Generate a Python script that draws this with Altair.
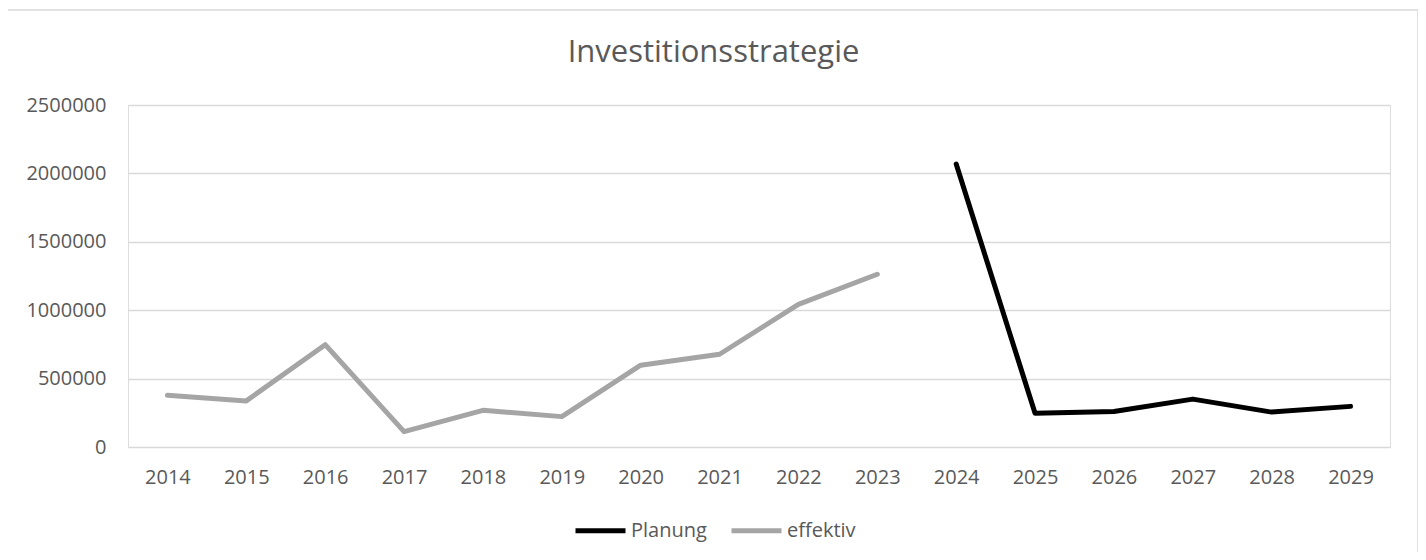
import altair as alt
import pandas as pd

years = [str(y) for y in range(2014, 2030)]
effektiv_years = ["2014", "2015", "2016", "2017", "2018", "2019", "2020", "2021", "2022", "2023"]
effektiv_values = [378000, 337000, 748000, 112000, 268000, 222000, 598000, 678000, 1043000, 1263000]
planung_years = ["2024", "2025", "2026", "2027", "2028", "2029"]
planung_values = [2068000, 246000, 260000, 350000, 255000, 297000]
series = ["Planung", "effektiv"]
colors = ["#000000", "#a5a5a5"]
y_ticks = [0, 500000, 1000000, 1500000, 2000000, 2500000]
title_text = "Investitionsstrategie"

rows = []
for y, v in zip(effektiv_years, effektiv_values):
    rows.append({"Jahr": y, "Wert": v, "Serie": "effektiv"})
for y, v in zip(planung_years, planung_values):
    rows.append({"Jahr": y, "Wert": v, "Serie": "Planung"})
df = pd.DataFrame(rows)

FONT = "Open Sans"
LABEL = "#595959"
FS = 20

lines = alt.Chart(df).mark_line(strokeWidth=5, strokeCap="round", strokeJoin="round").encode(
    x=alt.X("Jahr:O", sort=years, scale=alt.Scale(domain=years, type="point", padding=0.5),
            axis=alt.Axis(title=None, labelAngle=0, domain=False, ticks=False, labelPadding=20,
                          labelFontSize=FS, labelColor=LABEL, labelFont=FONT, grid=False)),
    y=alt.Y("Wert:Q", scale=alt.Scale(domain=[0, 2500000], nice=False),
            axis=alt.Axis(title=None, values=y_ticks, format="d", domain=False, ticks=False,
                          labelPadding=22, labelFontSize=FS, labelColor=LABEL, labelFont=FONT,
                          gridColor="#d9d9d9", gridWidth=1.5)),
    color=alt.Color("Serie:N", scale=alt.Scale(domain=series, range=colors),
                    legend=alt.Legend(title=None, orient="none", legendX=445, legendY=398,
                                      direction="horizontal", symbolType="stroke",
                                      symbolSize=2500, symbolStrokeWidth=5,
                                      labelFontSize=FS, labelColor=LABEL, labelFont=FONT,
                                      columnPadding=14, labelOffset=3)),
    detail="Serie:N",
)

border = alt.Chart(pd.DataFrame({"k": [0]})).mark_rect(
    fill=None, stroke="#d9d9d9", strokeWidth=1.5
).encode(
    x=alt.value(-121), x2=alt.value(1290), y=alt.value(-95), y2=alt.value(460)
)

title = alt.Chart(pd.DataFrame({"t": [title_text]})).mark_text(
    font=FONT, fontSize=31, color=LABEL, align="center", baseline="alphabetic"
).encode(
    x=alt.value(585.5), y=alt.value(-43), text="t:N"
)

chart = alt.layer(border, lines, title).properties(
    width=1262, height=342,
    autosize=alt.AutoSizeParams(type="none"),
    padding={"left": 120, "top": 97, "right": 28, "bottom": 105},
).configure_view(stroke=None).configure(background="white")

chart.save("out.html", embed_options={"renderer": "svg", "actions": False})
